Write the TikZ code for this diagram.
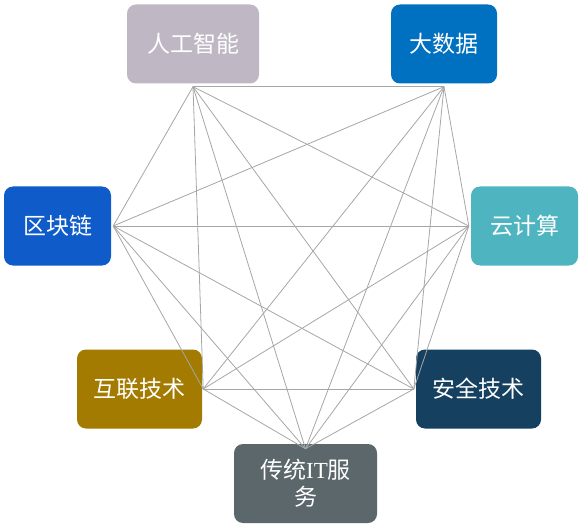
\documentclass[tikz,border=0pt]{standalone}
\usepackage{fontspec}
\setmainfont{Noto Sans CJK SC}
\newfontfamily\itfont{Liberation Serif}
\definecolor{aicol}{HTML}{BFB8C4}
\definecolor{bdcol}{HTML}{0070C0}
\definecolor{bccol}{HTML}{0E5BC9}
\definecolor{cccol}{HTML}{4EB5C0}
\definecolor{iccol}{HTML}{A27B00}
\definecolor{sccol}{HTML}{15405F}
\definecolor{itcol}{HTML}{5B676B}
\definecolor{linegray}{HTML}{A6A6A6}

\begin{document}
\begin{tikzpicture}[x=1pt,y=-1pt,
    box/.style={rounded corners=9pt, text=white, align=center, inner sep=0pt,
        font=\fontsize{23}{27}\selectfont, minimum height=79pt},
    link/.style={draw=linegray, line width=0.8pt}]
        \useasboundingbox (0,0) rectangle (583,529);
        % the seven fields
        \node[box, fill=aicol, minimum width=132pt] (ai) at (193,44) {人工智能};
        \node[box, fill=bdcol, minimum width=106pt] (bd) at (444,44) {大数据};
        \node[box, fill=bccol, minimum width=107pt] (bc) at (57.5,226) {区块链};
        \node[box, fill=cccol, minimum width=107pt] (cc) at (524.5,226) {云计算};
        \node[box, fill=iccol, minimum width=125pt] (ic) at (139.5,389) {互联技术};
        \node[box, fill=sccol, minimum width=125pt] (sc) at (478.5,389) {安全技术};
        \node[box, fill=itcol, minimum width=143pt] (it) at (305.5,483.5) {传统{\itfont IT}服\\务};

        % end points of the links
        \coordinate (aip) at ([yshift=-3pt]ai.south);
        \coordinate (bdp) at ([yshift=-3pt]bd.south);
        \coordinate (bcp) at ([xshift=2pt]bc.east);
        \coordinate (ccp) at ([xshift=-2pt]cc.west);
        \coordinate (icp) at ([xshift=1pt]ic.east);
        \coordinate (scp) at ([xshift=-2pt]sc.west);
        \coordinate (itp) at ([yshift=-5pt]it.north);

        % every field linked to every other one
        \foreach \p [count=\i] in {aip,bdp,bcp,ccp,icp,scp,itp} {
            \foreach \q [count=\j] in {aip,bdp,bcp,ccp,icp,scp,itp} {
                \ifnum\j>\i
                    \draw[link] (\p)--(\q);
                \fi
            }
        }
    \end{tikzpicture}
\end{document}
